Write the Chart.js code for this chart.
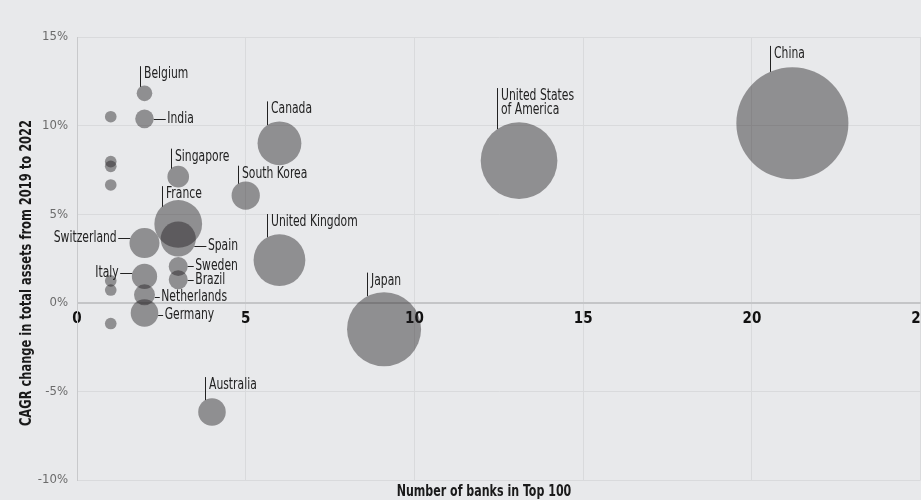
<!DOCTYPE html>
<html>
<head>
<meta charset="utf-8">
<script src="https://cdn.jsdelivr.net/npm/chart.js@4/dist/chart.umd.min.js"></script>
<style>
    html, body { margin: 0; padding: 0; background: #e8e9eb; overflow: hidden; }
    #wrap { width: 937px; height: 500px; position: relative; }
</style>
</head>
<body>
<div id="wrap"><canvas id="bank-chart"></canvas></div>
<script>
// Data
const countries = ['China', 'United States|of America', 'Japan', 'United Kingdom', 'France', 'Canada',
    'South Korea', 'Australia', 'Spain', 'Switzerland', 'Germany', 'Italy', 'Singapore',
    'Netherlands', 'Sweden', 'Brazil', 'India', 'Belgium',
    null, null, null, null, null, null, null];
const bankCount = [21.2, 13.1, 9.1, 6, 3, 6, 5, 4, 3, 2, 2, 2, 3, 2, 3, 3, 2, 2, 1, 1, 1, 1, 1, 1, 1];
const cagrPct = [10.13, 8.02, -1.49, 2.41, 4.45, 9.0, 6.05, -6.16, 3.6, 3.37, -0.58, 1.49, 7.12,
    0.45, 2.05, 1.3, 10.38, 11.82, 10.5, 7.97, 7.7, 6.65, 1.24, 0.72, -1.17];
// relative total assets (bubble area)
const totalAssets = [31.4, 14.7, 13.7, 6.7, 5.7, 4.8, 2.0, 1.9, 3.1, 2.25, 1.9, 1.6, 1.17,
    1.1, 0.9, 0.9, 0.86, 0.61, 0.34, 0.34, 0.34, 0.34, 0.34, 0.34, 0.34];
const xTicks = [0, 5, 10, 15, 20, 25];
const yTicks = [-10, -5, 0, 5, 10, 15];

const FONT = '"DejaVu Sans Condensed", "Liberation Sans Narrow", Roboto, sans-serif';
const SIZE_SCALE = 10; // px per sqrt(asset unit)

// Leader line placement for each label (by country index)
const labelLayout = {
    0: { side: 'up', dx: -22.3, len: 26 },
    1: { side: 'up', dx: -21.7, len: 41 },
    2: { side: 'up', dx: -16.6, len: 23.5 },
    3: { side: 'up', dx: -12.3, len: 23.3 },
    4: { side: 'up', dx: -16.6, len: 20.6 },
    5: { side: 'up', dx: -12, len: 23.6 },
    6: { side: 'up', dx: -7.7, len: 18 },
    7: { side: 'up', dx: -7, len: 23 },
    8: { side: 'right', dy: 7, len: 12 },
    9: { side: 'left', dy: -4.6, len: 12 },
    10: { side: 'right', dy: 2, len: 5 },
    11: { side: 'left', dy: -3, len: 12 },
    12: { side: 'up', dx: -7.3, len: 20 },
    13: { side: 'right', dy: 2, len: 5 },
    14: { side: 'right', dy: 0, len: 6 },
    15: { side: 'right', dy: 0, len: 6 },
    16: { side: 'right', dy: 0, len: 12 },
    17: { side: 'up', dx: -4.4, len: 20.7 }
};

const points = bankCount.map((x, i) => ({
    x: x,
    y: cagrPct[i],
    r: SIZE_SCALE * Math.sqrt(totalAssets[i])
}));

// Condensed text: squeeze horizontally around the anchor point
function narrowText(ctx, text, x, y, squeeze) {
    ctx.save();
    ctx.translate(x, y);
    ctx.scale(squeeze, 1);
    ctx.fillText(text, 0, 0);
    ctx.restore();
}

// Draws country labels with leader lines
const labelPlugin = {
    id: 'countryLabels',
    afterDatasetsDraw(chart) {
        const ctx = chart.ctx;
        const xs = chart.scales.x, ys = chart.scales.y;
        const sq = 0.8;
        ctx.save();
        ctx.font = '15px ' + FONT;
        ctx.fillStyle = '#222';
        ctx.strokeStyle = '#222';
        ctx.lineWidth = 1;
        countries.forEach((name, i) => {
            if (!name) return;
            const lay = labelLayout[i];
            const cx = xs.getPixelForValue(points[i].x);
            const cy = ys.getPixelForValue(points[i].y);
            const r = points[i].r;
            const lines = name.split('|');
            ctx.beginPath();
            if (lay.side === 'up') {
                const lx = Math.round(cx + lay.dx) + 0.5;
                const edge = cy - Math.sqrt(Math.max(r * r - lay.dx * lay.dx, 0));
                const top = edge - lay.len;
                ctx.moveTo(lx, edge);
                ctx.lineTo(lx, top);
                ctx.stroke();
                ctx.textAlign = 'left';
                ctx.textBaseline = 'middle';
                lines.forEach((t, k) => narrowText(ctx, t, lx + 3.5, top + 8 + k * 14, sq));
            } else {
                const ly = Math.round(cy + lay.dy) + 0.5;
                const half = Math.sqrt(Math.max(r * r - lay.dy * lay.dy, 0));
                ctx.textBaseline = 'middle';
                if (lay.side === 'right') {
                    const x0 = cx + half;
                    ctx.moveTo(x0, ly);
                    ctx.lineTo(x0 + lay.len, ly);
                    ctx.stroke();
                    ctx.textAlign = 'left';
                    narrowText(ctx, lines[0], x0 + lay.len + 1.5, ly, sq);
                } else {
                    const x0 = cx - half;
                    ctx.moveTo(x0, ly);
                    ctx.lineTo(x0 - lay.len, ly);
                    ctx.stroke();
                    ctx.textAlign = 'right';
                    narrowText(ctx, lines[0], x0 - lay.len - 1.5, ly, sq);
                }
            }
        });
        ctx.restore();
    },
    afterDraw(chart) {
        const ctx = chart.ctx;
        ctx.save();
        ctx.font = 'bold 15px ' + FONT;
        ctx.fillStyle = '#1a1a1a';
        ctx.textAlign = 'center';
        ctx.textBaseline = 'middle';
        narrowText(ctx, 'Number of banks in Top 100', 484, 492, 0.82);
        ctx.translate(27, 273);
        ctx.rotate(-Math.PI / 2);
        narrowText(ctx, 'CAGR change in total assets from 2019 to 2022', 0, 0, 0.85);
        ctx.restore();
    }
};

Chart.defaults.font.family = FONT;

new Chart(document.getElementById('bank-chart'), {
    type: 'bubble',
    data: {
        datasets: [{
            data: points,
            backgroundColor: 'rgba(30, 28, 29, 0.44)',
            borderWidth: 0,
            hoverBorderWidth: 0,
            clip: false
        }]
    },
    options: {
        responsive: true,
        maintainAspectRatio: false,
        animation: false,
        events: [],
        layout: { autoPadding: false, padding: { top: 37, bottom: 20, left: 0, right: 0 } },
        plugins: {
            legend: { display: false },
            tooltip: { enabled: false }
        },
        scales: {
            x: {
                type: 'linear',
                position: { y: 0 },
                min: 0,
                max: 25,
                afterBuildTicks: (scale) => { scale.ticks = xTicks.map(v => ({ value: v })); },
                ticks: {
                    color: '#111',
                    font: { size: 15, weight: 'bold' },
                    padding: 7,
                    maxRotation: 0
                },
                grid: { color: '#d9dadc', drawTicks: false },
                border: { display: false }
            },
            y: {
                min: -10,
                max: 15,
                afterBuildTicks: (scale) => { scale.ticks = yTicks.map(v => ({ value: v })); },
                afterFit: (scale) => { scale.width = 77; },
                ticks: {
                    color: '#6b6b6b',
                    font: { size: 13 },
                    padding: 9,
                    callback: v => v + '%'
                },
                grid: {
                    drawTicks: false,
                    color: c => c.tick && c.tick.value === 0 ? '#c4c5c7' : '#d9dadc',
                    lineWidth: c => c.tick && c.tick.value === 0 ? 2 : 1
                },
                border: { color: '#c8c9cb' }
            }
        }
    },
    plugins: [labelPlugin]
});
</script>
</body>
</html>
